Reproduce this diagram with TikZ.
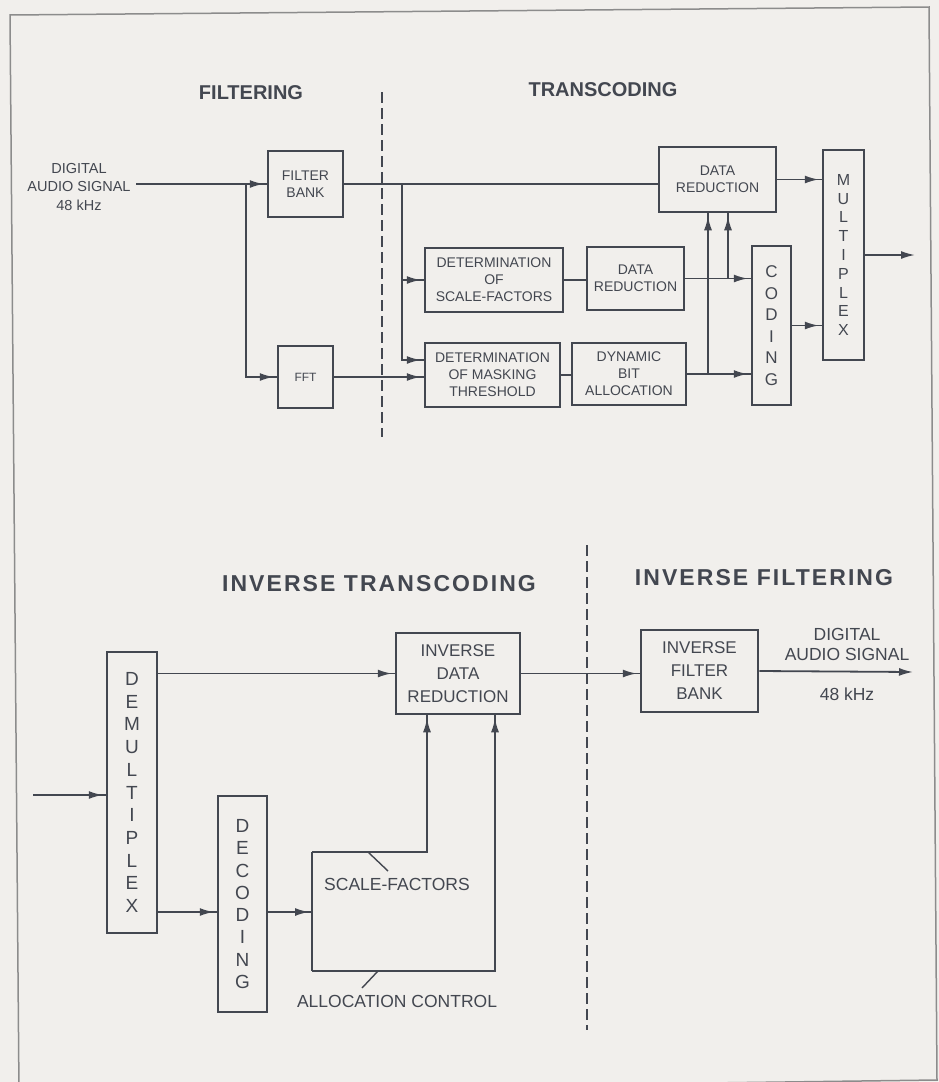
\documentclass[tikz,border=0pt]{standalone}
\usepackage{fontspec}
\setmainfont{Liberation Sans}
\usetikzlibrary{arrows.meta,decorations.markings,calc}
\definecolor{ink}{HTML}{434750}
\definecolor{bg}{HTML}{F1EFEC}
\definecolor{framec}{HTML}{8C8C8C}
\tikzset{
 blk/.style={draw=ink, line width=2.5pt, inner sep=0pt, align=center, text=ink, font=\fontsize{14}{17}\selectfont},
 vblk/.style={blk, font=\fontsize{17}{21.5}\selectfont},
 ln/.style={draw=ink, line width=1.8pt},
 arr/.style={ln, postaction={decorate}, decoration={markings, mark=at position -3pt with {\arrow{Latex[length=14pt,width=8pt]}}}},
 arrend/.style={ln, -{Latex[length=14pt,width=8pt]}},
 lbl/.style={text=ink, align=center, inner sep=0pt},
 head/.style={text=ink, inner sep=0pt, font=\fontsize{20}{24}\selectfont\bfseries},
 bighead/.style={text=ink, inner sep=0pt, font=\fontsize{23}{27}\selectfont\bfseries\addfontfeature{LetterSpace=9}},
 divider/.style={draw=ink, line width=1.6pt, dash pattern=on 11pt off 5pt},
}
\begin{document}
\begin{tikzpicture}[x=1pt,y=-1pt]
\useasboundingbox (0,0) rectangle (939,1082);
\fill[bg] (0,0) rectangle (939,1082);
\draw[framec, line width=1.5pt] (10,15) -- (929,7) -- (937,1080) -- (19,1092) -- cycle;

% ---------- top: filtering / transcoding ----------
\node[head] (hfilt) at (251,93) {FILTERING};
\node[head] (htrans) at (603,90) {TRANSCODING};
\draw[divider] (382,92) -- (382,437);

\node[lbl, font=\fontsize{14.5}{18.5}\selectfont] (intxt) at (79,187) {DIGITAL\\AUDIO SIGNAL\\48 kHz};
\node[blk, minimum width=75pt, minimum height=66pt] (fb) at (305.5,184) {FILTER\\BANK};
\node[blk, minimum width=55pt, minimum height=62pt, font=\fontsize{12}{14}\selectfont] (fft) at (305.5,377) {FFT};
\node[blk, minimum width=138pt, minimum height=64pt] (dsf) at (494,280) {DETERMINATION\\OF\\SCALE-FACTORS};
\node[blk, minimum width=97pt, minimum height=63pt] (dr2) at (635.5,278.5) {DATA\\REDUCTION};
\node[blk, minimum width=135pt, minimum height=64pt] (dmt) at (492.5,375) {DETERMINATION\\OF MASKING\\THRESHOLD};
\node[blk, minimum width=114pt, minimum height=62pt] (dba) at (629,374) {DYNAMIC\\BIT\\ALLOCATION};
\node[blk, minimum width=117pt, minimum height=65pt] (dr1) at (717.5,179.5) {DATA\\REDUCTION};
\node[vblk, minimum width=39pt, minimum height=159pt] (cod) at (771.5,325.5) {C\\O\\D\\I\\N\\G};
\node[vblk, minimum width=41pt, minimum height=210pt, font=\fontsize{16}{18.8}\selectfont] (mux) at (843.5,255) {M\\U\\L\\T\\I\\P\\L\\E\\X};

\coordinate (in1) at (136,184);
\coordinate (b1) at (246,184);
\coordinate (b2) at (402,184);
\coordinate (m1) at ($(dmt.west)+(0,-15)$);
\coordinate (j1) at (708,374);
\coordinate (j2) at (728,278.5);
\coordinate (out1) at (915,255);

\draw[arr] (in1) -- (fb.west);
\draw[arr] (b1) |- (fft.west);
\draw[ln] (fb.east) -- (fb.east -| dr1.west);
\draw[arr] (b2) |- (dsf.west);
\draw[arr] (b2) |- (m1);
\draw[arr] (fft.east) -- (fft.east -| dmt.west);
\draw[ln] (dsf.east) -- (dsf.east -| dr2.west);
\draw[arr] (dr2.east) -- (dr2.east -| cod.west);
\draw[ln] (dmt.east) -- (dmt.east -| dba.west);
\draw[arr] (dba.east) -- (dba.east -| cod.west);
\draw[arr] (j1) -- (j1 |- dr1.south);
\draw[arr] (j2) -- (j2 |- dr1.south);
\draw[arr] (dr1.east) -- (dr1.east -| mux.west);
\draw[arr] (cod.east) -- (cod.east -| mux.west);
\draw[arrend] (mux.east) -- (out1);

% ---------- bottom: inverse transcoding / inverse filtering ----------
\node[bighead] (hitr) at (379,584) {INVERSE TRANSCODING};
\node[bighead] (hifi) at (764,578) {INVERSE FILTERING};
\draw[divider] (587,545) -- (587,1030);

\node[vblk, minimum width=50pt, minimum height=281pt, font=\fontsize{19}{22.7}\selectfont] (dmx) at (132,792.5) {D\\E\\M\\U\\L\\T\\I\\P\\L\\E\\X};
\node[vblk, minimum width=49pt, minimum height=216pt, font=\fontsize{19}{22.3}\selectfont] (dec) at (242.5,904) {D\\E\\C\\O\\D\\I\\N\\G};
\node[blk, minimum width=124pt, minimum height=81pt, font=\fontsize{17}{23}\selectfont] (idr) at (458,673.5) {INVERSE\\DATA\\REDUCTION};
\node[blk, minimum width=117pt, minimum height=82pt, font=\fontsize{17}{23}\selectfont] (ifb) at (699.5,671) {INVERSE\\FILTER\\BANK};

\node[lbl, font=\fontsize{17.5}{20}\selectfont] (outtxt) at (847,644) {DIGITAL\\AUDIO SIGNAL};
\node[lbl, font=\fontsize{17.5}{20}\selectfont] (khz) at (847,694) {48 kHz};
\node[lbl, font=\fontsize{17.5}{20}\selectfont] (sftxt) at (397,884) {SCALE-FACTORS};
\node[lbl, font=\fontsize{17.5}{20}\selectfont] (actxt) at (397,1001) {ALLOCATION CONTROL};

\coordinate (in2) at (33,795);
\coordinate (dd) at (0,912);
\coordinate (bus1) at (312,912);
\coordinate (bt) at (312,852);
\coordinate (bb) at (312,971);
\coordinate (sf) at (427,852);
\coordinate (ac) at (495,971);
\coordinate (out2) at (913,672);
\coordinate (ls1) at (368,852);
\coordinate (ls2) at (388,871);
\coordinate (la1) at (378,971);
\coordinate (la2) at (362,988);

\draw[arr] (in2) -- (in2 -| dmx.west);
\draw[arr] (dmx.east |- idr.west) -- (idr.west);
\draw[arr] (dmx.east |- dd) -- (dec.west |- dd);
\draw[arr] (dec.east |- dd) -- (bus1);
\draw[ln] (bt) -- (bb);
\draw[arr] (bt) -- (sf) -- (sf |- idr.south);
\draw[arr] (bb) -- (ac) -- (ac |- idr.south);
\draw[arr] (idr.east) -- (idr.east -| ifb.west);
\draw[arrend] (ifb.east) -- (out2);
\draw[ln, line width=1.4pt] (ls1) -- (ls2);
\draw[ln, line width=1.4pt] (la1) -- (la2);
\end{tikzpicture}
\end{document}
